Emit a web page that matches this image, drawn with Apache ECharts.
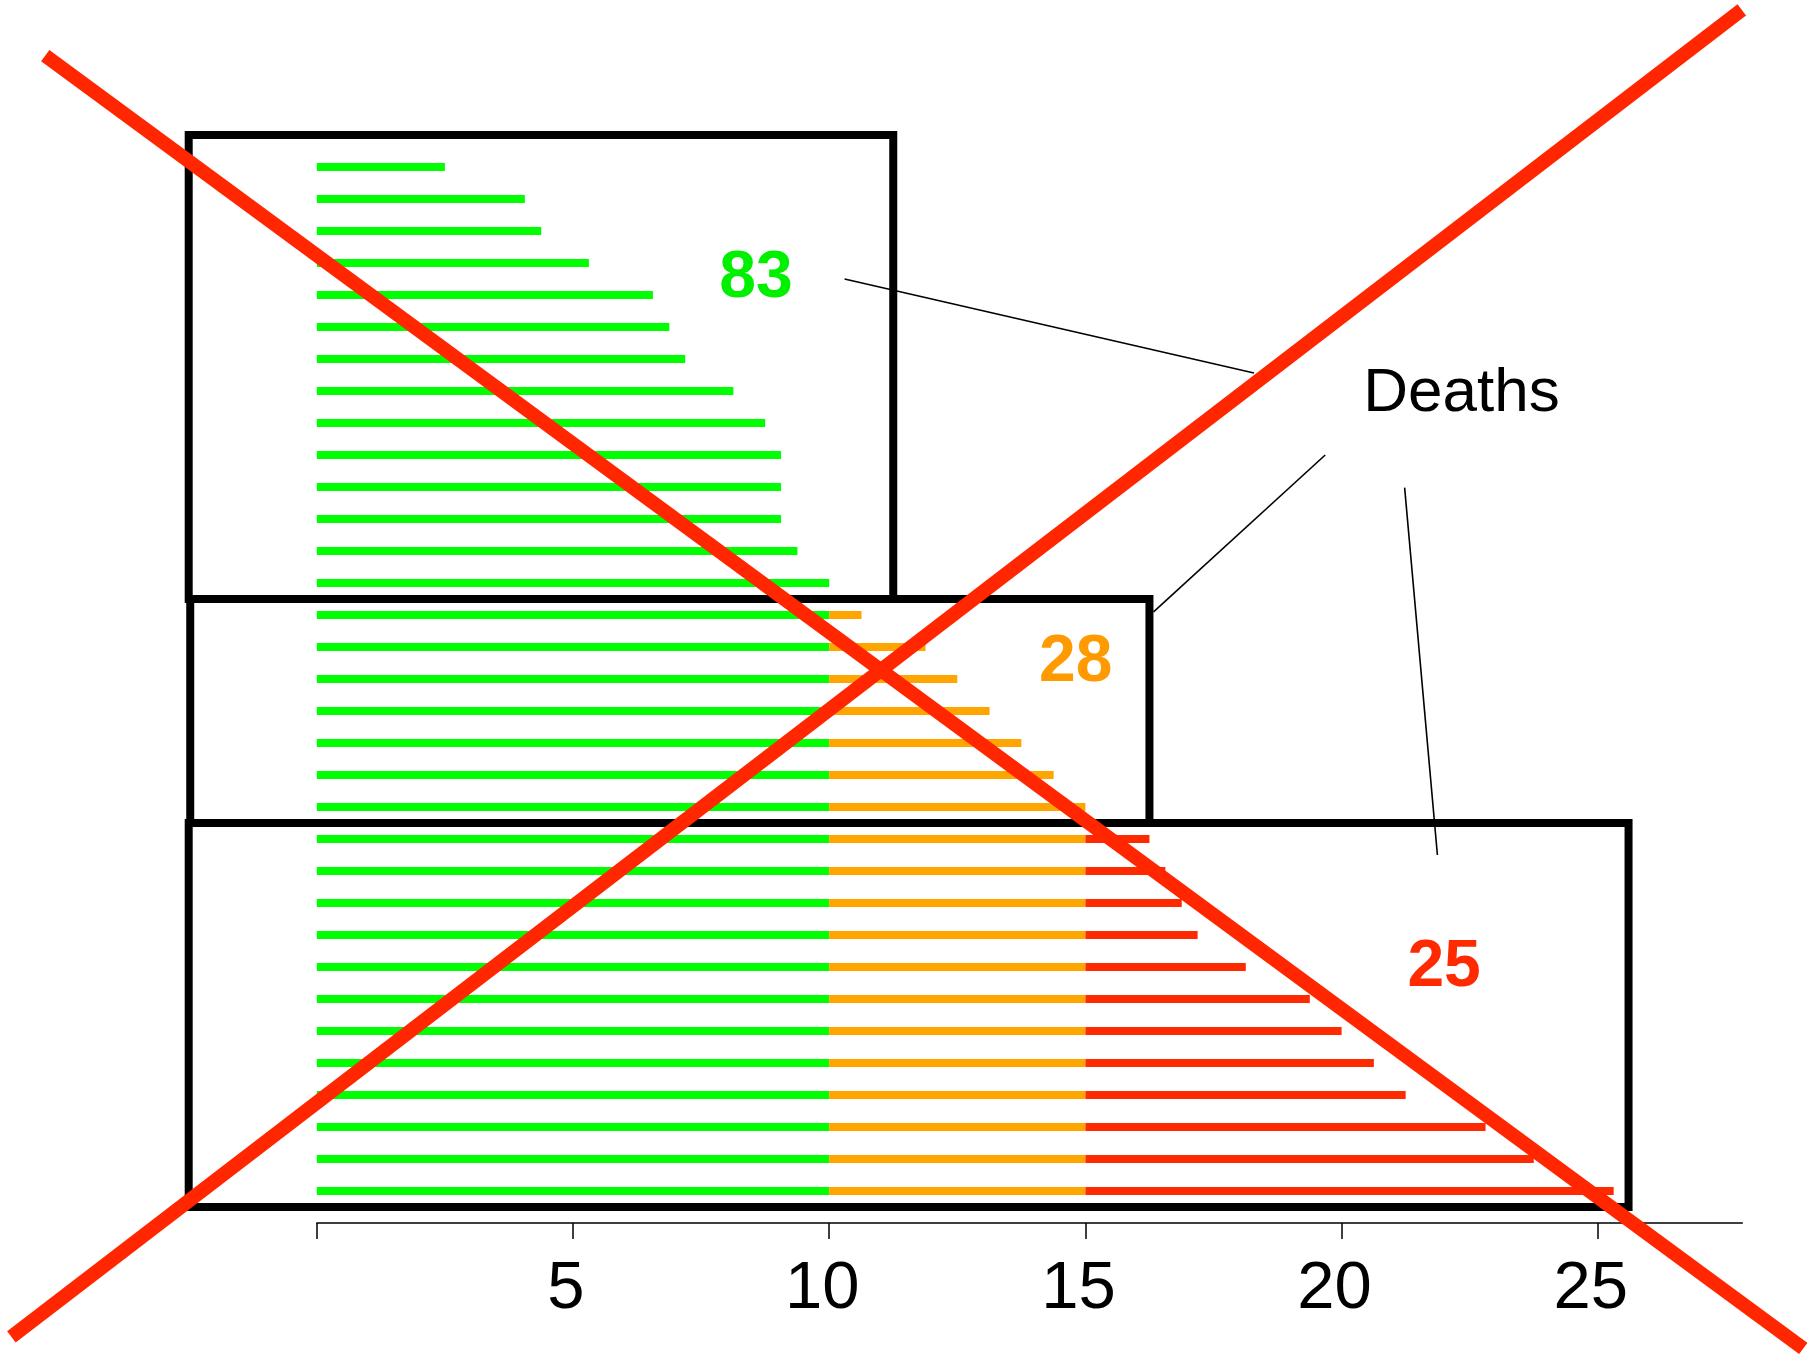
<!DOCTYPE html>
<html>
<head>
<meta charset="utf-8">
<script src="https://cdn.jsdelivr.net/npm/echarts@6/dist/echarts.min.js"></script>
<style>
html,body{margin:0;padding:0;background:#ffffff;}
#chart{width:1807px;height:1356px;}
</style>
</head>
<body>
<div id="chart"></div>
<script>
// ---- data ----
const rows = ['1','2','3','4','5','6','7','8','9','10','11','12','13','14','15','16','17','18','19','20','21','22','23','24','25','26','27','28','29','30','31','32','33'];
const values = [2.5, 4.06, 4.38, 5.31, 6.56, 6.88, 7.19, 8.13, 8.75, 9.06, 9.06, 9.06, 9.38, 10,
                 10.63, 11.88, 12.5, 13.13, 13.75, 14.38, 15,
                 16.25, 16.56, 16.88, 17.19, 18.13, 19.38, 20, 20.63, 21.25, 22.81, 23.75, 25.31];
const greenLimit = 10;
const orangeLimit = 15;
const xTickValues = [0, 5, 10, 15, 20, 25];
const xTickLabels = [5, 10, 15, 20, 25];
const xMax = 27.82;

const groupTotals = [83, 28, 25];
const groupLabelAt = [[8.57, 4.5], [14.81, 16.5], [22.0, 26.02]];
const groupBoxes = [[-2.5, 0, 11.25, 14.5], [-2.47, 14.5, 16.25, 21.5], [-2.5, 21.5, 25.6, 33.5]];
const calloutText = 'Deaths';
const calloutAt = [22.34, 8.1];
const leaderLines = [[10.30, 4.5, 18.29, 7.44], [16.33, 14.9, 19.68, 10.0], [21.23, 11.02, 21.87, 22.5]];
const crossLines = [[-5.30, -2.48, 29.01, 37.92], [-5.96, 37.56, 27.81, -3.91]];

// ---- styles ----
const GREEN = '#00ff00', ORANGE = '#ffa500', RED = '#ff2a00';
const groupColors = ['#00f000', '#ff9a00', '#ff2a00'];
const FONT = '"Liberation Sans", Arial, Helvetica, sans-serif';

const greenPart = values.map(v => Math.min(v, greenLimit));
const orangePart = values.map(v => Math.max(0, Math.min(v, orangeLimit) - greenLimit));
const redPart = values.map(v => Math.max(0, v - orangeLimit));

const chart = echarts.init(document.getElementById('chart'), null, {renderer: 'canvas'});

function segItem(params, api, style) {
  const p0 = api.coord([api.value(0), api.value(1)]);
  const p1 = api.coord([api.value(2), api.value(3)]);
  return {type: 'line', shape: {x1: p0[0], y1: p0[1], x2: p1[0], y2: p1[1]}, style: style};
}

chart.setOption({
  animation: false,
  backgroundColor: '#ffffff',
  grid: {left: 316.8, right: 64.7, top: 151, bottom: 149, containLabel: false},
  xAxis: {
    type: 'value', min: 0, max: xMax,
    offset: 16,
    splitLine: {show: false},
    axisLine: {show: true, lineStyle: {color: '#000', width: 1.5}},
    axisTick: {show: true, customValues: xTickValues, length: 16, lineStyle: {color: '#000', width: 1.5}},
    axisLabel: {show: true, customValues: xTickLabels, fontSize: 67, fontFamily: FONT, color: '#000',
                margin: 33, padding: [0, 14, 0, 0]}
  },
  yAxis: [
    {type: 'category', data: rows, inverse: true, show: false},
    {type: 'value', min: 0.5, max: 33.5, inverse: true, show: false}
  ],
  series: [
    {type: 'custom', name: 'boxes', xAxisIndex: 0, yAxisIndex: 1, clip: false, z: 1,
     data: groupBoxes, encode: {x: [0, 2], y: [1, 3]},
     renderItem: function (params, api) {
       const p0 = api.coord([api.value(0), api.value(1)]);
       const p1 = api.coord([api.value(2), api.value(3)]);
       return {type: 'rect', shape: {x: p0[0], y: p0[1], width: p1[0] - p0[0], height: p1[1] - p0[1]},
               style: {fill: null, stroke: '#000', lineWidth: 8}};
     }},
    {type: 'bar', name: 'green', stack: 'deaths', data: greenPart, barWidth: 8, itemStyle: {color: GREEN}, z: 3},
    {type: 'bar', name: 'orange', stack: 'deaths', data: orangePart, barWidth: 8, itemStyle: {color: ORANGE}, z: 3},
    {type: 'bar', name: 'red', stack: 'deaths', data: redPart, barWidth: 8, itemStyle: {color: RED}, z: 3},
    {type: 'custom', name: 'leaders', xAxisIndex: 0, yAxisIndex: 1, clip: false, z: 4,
     data: leaderLines, encode: {x: [0, 2], y: [1, 3]},
     renderItem: function (params, api) {
       return segItem(params, api, {stroke: '#000', lineWidth: 1.6});
     }},
    {type: 'custom', name: 'groupLabels', xAxisIndex: 0, yAxisIndex: 1, clip: false, z: 5,
     data: groupLabelAt, encode: {x: 0, y: 1},
     renderItem: function (params, api) {
       const p = api.coord([api.value(0), api.value(1)]);
       return {type: 'text', x: p[0], y: p[1],
               style: {text: String(groupTotals[params.dataIndex]), fill: groupColors[params.dataIndex],
                       font: 'bold 66px ' + FONT, align: 'center', verticalAlign: 'middle'}};
     }},
    {type: 'custom', name: 'callout', xAxisIndex: 0, yAxisIndex: 1, clip: false, z: 5,
     data: [calloutAt], encode: {x: 0, y: 1},
     renderItem: function (params, api) {
       const p = api.coord([api.value(0), api.value(1)]);
       return {type: 'text', x: p[0], y: p[1],
               style: {text: calloutText, fill: '#000', font: '62px ' + FONT, align: 'center', verticalAlign: 'middle'}};
     }},
    {type: 'custom', name: 'cross', xAxisIndex: 0, yAxisIndex: 1, clip: false, z: 10,
     data: crossLines, encode: {x: [0, 2], y: [1, 3]},
     renderItem: function (params, api) {
       return segItem(params, api, {stroke: '#ff2600', lineWidth: 14, lineCap: 'butt'});
     }}
  ]
});
</script>
</body>
</html>
